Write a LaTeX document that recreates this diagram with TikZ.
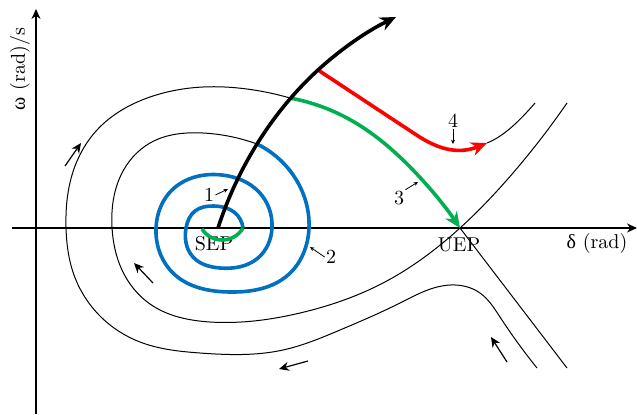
\documentclass[tikz,border=0pt]{standalone}
\usepackage{fontspec}
\newfontfamily\grk{Liberation Serif}
\usetikzlibrary{arrows.meta,hobby}
\definecolor{tblue}{RGB}{0,112,192}
\definecolor{tgreen}{RGB}{0,176,80}
\definecolor{tred}{RGB}{255,0,0}
\begin{document}
\begin{tikzpicture}[x=0.5pt,y=-0.5pt,
  contour/.style={line width=0.5pt},
  traj/.style={line width=1.8pt},
  axisline/.style={line width=0.55pt,-{Stealth[length=5pt,width=4.5pt]}},
  flow/.style={line width=0.6pt,-{Stealth[length=5pt,width=4.5pt]}},
  tag/.style={line width=0.4pt,-{Stealth[length=2.2pt,width=2pt]}},
  lbl/.style={inner sep=0.5pt, font=\fontsize{10}{12}\selectfont},
  bighead/.style={-{Stealth[length=8pt,width=7pt]}}]
\useasboundingbox (0,0) rectangle (637,414);

% key points
\coordinate (SEP) at (218,228);
\coordinate (UEP) at (460,228);
\coordinate (xL) at (12,228);
\coordinate (xR) at (637,228);
\coordinate (yB) at (36,414);
\coordinate (yT) at (36,9);
\coordinate (A) at (257,144);  % start of blue
\coordinate (B) at (290,98);   % start of green
\coordinate (C) at (318,70);   % start of red
\coordinate (D) at (487,143);  % red tip

% axes
\draw[axisline] (xL) -- (xR);
\draw[axisline] (yB) -- (yT);
\node[lbl, rotate=90] (wlab) at (20,69) {{\grk ω} (rad)/s};
\node[lbl] (dlab) at (597,243) {{\grk δ} (rad)};
\node[lbl] (seplab) at (214,244) {SEP};
\node[lbl] (ueplab) at (459,245) {UEP};

% outer contour
\draw[contour, use Hobby shortcut] (B) .. (247,89) .. (203,87) .. (150,97) .. (97,130) .. (72,175) .. (66,227) .. (74,275) .. (100,316) .. (140,342) .. (200,353) .. (283,350) .. (340,330) .. (400,303) .. (450,285) .. (480,293) .. (500,317) .. (537,368);

% inner contour through UEP
\draw[contour, use Hobby shortcut] (A) .. (203,133) .. (150,143) .. (121,175) .. (112,227) .. (122,270) .. (150,304) .. (210,322) .. (300,313) .. (383,283) .. (UEP) .. (513,173) .. (567,103);

% separatrix and upper branch
\draw[contour] (UEP) -- (567,368);
\draw[contour] (D) .. controls (505,136) and (522,118) .. (535,103);

% blue spiral
\draw[traj, tblue, use Hobby shortcut] (A) .. (291,172) .. (309,228) .. (288,275) .. (230,292) .. (174,274) .. (156,228) .. (172,190) .. (222,175) .. (259,192) .. (272,228) .. (258,258) .. (220,268) .. (193,257) .. (186,228) .. (195,211) .. (214,206) .. (234,212) .. (243,228);
% green arc near SEP
\draw[traj, tgreen, use Hobby shortcut] (243,228) .. (222,240) .. (202,229);

% green trajectory 3
\draw[traj, tgreen, bighead, use Hobby shortcut] (B) .. (347,118) .. (413,170) .. (UEP);
% red trajectory 4
\draw[traj, tred, bighead] (C) -- (415,134) .. controls (440,151) and (460,154) .. (D);
% black trajectory
\draw[traj, black, bighead, use Hobby shortcut] (SEP) .. (A) .. (C) .. (396,17);

% flow arrows
\coordinate (f1a) at (65,166); \coordinate (f1b) at (81,143);
\coordinate (f2a) at (153,283); \coordinate (f2b) at (134,263);
\coordinate (f3a) at (308,361); \coordinate (f3b) at (279,369);
\coordinate (f4a) at (507,362); \coordinate (f4b) at (491,337);
\draw[flow] (f1a) -- (f1b);
\draw[flow] (f2a) -- (f2b);
\draw[flow] (f3a) -- (f3b);
\draw[flow] (f4a) -- (f4b);

% labels with pointers
\node[lbl] (n1) at (209,195) {1};
\coordinate (p1) at (228,189);
\draw[tag] (n1.east) -- (p1);
\node[lbl] (n2) at (331,257) {2};
\coordinate (p2) at (310,247);
\draw[tag] (n2.west) -- (p2);
\node[lbl] (n3) at (399,198) {3};
\coordinate (p3) at (418,182);
\draw[tag] (n3.north east) -- (p3);
\node[lbl] (n4) at (453,121) {4};
\coordinate (p4) at (453,144);
\draw[tag] (n4.south) -- (p4);
\end{tikzpicture}
\end{document}
